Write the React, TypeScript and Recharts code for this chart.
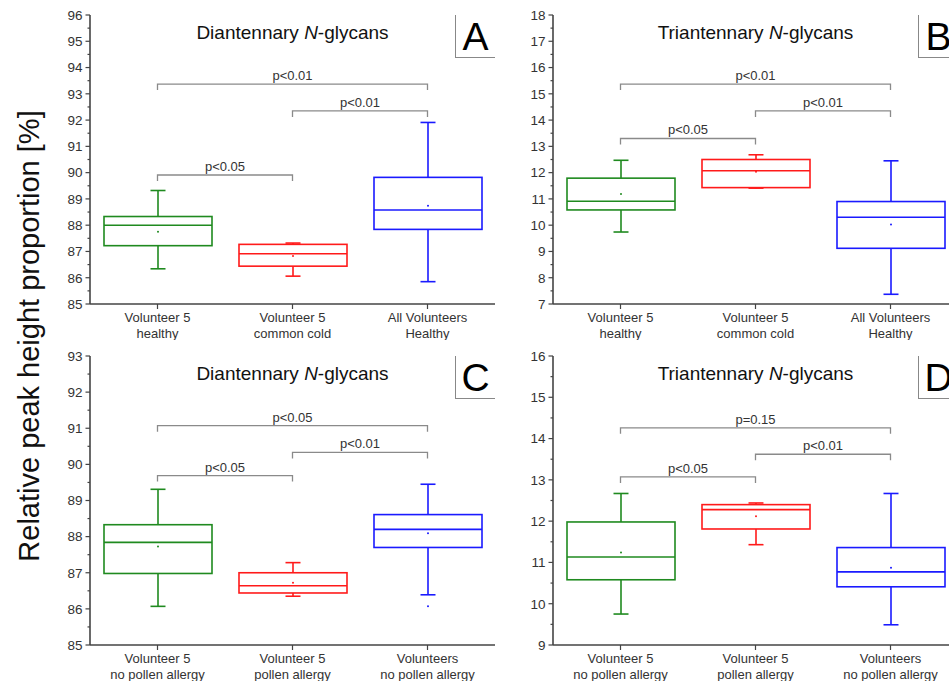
import React from 'react'
import { ComposedChart, Bar, XAxis, YAxis, ReferenceLine } from 'recharts'

// box stats per group: [min, q1, median, q3, max, mean]
const catsTop = ['Volunteer 5\nhealthy', 'Volunteer 5\ncommon cold', 'All Volunteers\nHealthy']
const catsBottom = ['Volunteer 5\nno pollen allergy', 'Volunteer 5\npollen allergy', 'Volunteers\nno pollen allergy']

const boxesA = [
  [86.34, 87.22, 88.0, 88.33, 89.32, 87.75],
  [86.06, 86.44, 86.91, 87.27, 87.32, 86.83],
  [85.85, 87.84, 88.58, 89.82, 91.91, 88.74],
]
const boxesB = [
  [9.74, 10.58, 10.91, 11.79, 12.47, 11.19],
  [11.41, 11.43, 12.07, 12.5, 12.68, 12.03],
  [7.37, 9.12, 10.3, 10.9, 12.45, 10.03],
]
const boxesC = [
  [86.07, 86.98, 87.84, 88.33, 89.31, 87.73],
  [86.35, 86.44, 86.64, 87.0, 87.28, 86.72],
  [86.39, 87.7, 88.2, 88.61, 89.45, 88.09],
]
const boxesD = [
  [9.75, 10.58, 11.13, 11.98, 12.67, 11.24],
  [11.43, 11.81, 12.28, 12.4, 12.44, 12.12],
  [9.49, 10.41, 10.77, 11.36, 12.67, 10.87],
]
const outliersC = [[], [], [86.07]]
const noOutliers = [[], [], []]

const ticksA = [85, 86, 87, 88, 89, 90, 91, 92, 93, 94, 95, 96]
const ticksB = [7, 8, 9, 10, 11, 12, 13, 14, 15, 16, 17, 18]
const ticksC = [85, 86, 87, 88, 89, 90, 91, 92, 93]
const ticksD = [9, 10, 11, 12, 13, 14, 15, 16]

const bracketsA = [
  { from: 0, to: 2, y: 93.37, label: 'p<0.01' },
  { from: 1, to: 2, y: 92.35, label: 'p<0.01' },
  { from: 0, to: 1, y: 89.91, label: 'p<0.05' },
]
const bracketsB = [
  { from: 0, to: 2, y: 15.37, label: 'p<0.01' },
  { from: 1, to: 2, y: 14.35, label: 'p<0.01' },
  { from: 0, to: 1, y: 13.3, label: 'p<0.05' },
]
const bracketsC = [
  { from: 0, to: 2, y: 91.07, label: 'p<0.05' },
  { from: 1, to: 2, y: 90.33, label: 'p<0.01' },
  { from: 0, to: 1, y: 89.69, label: 'p<0.05' },
]
const bracketsD = [
  { from: 0, to: 2, y: 14.26, label: 'p=0.15' },
  { from: 1, to: 2, y: 13.62, label: 'p<0.01' },
  { from: 0, to: 1, y: 13.07, label: 'p<0.05' },
]

const COLORS = ['#1f8a1f', '#ff1a1a', '#1a1aff']
const AXIS = '#444'
const FRAME = '#777'
const FONT = '"Liberation Sans", Arial, sans-serif'

// add half-step minor ticks between the labelled ones
const withMinor = (ticks: number[]) =>
  ticks.flatMap((t, i) => (i < ticks.length - 1 ? [t, (t + ticks[i + 1]) / 2] : [t]))

function YTick(props: any) {
  const { x, y, payload } = props
  const major = Number.isInteger(payload.value)
  return (
    <g>
      <line x1={x - (major ? 4.5 : 2.5)} x2={x} y1={y} y2={y} stroke={AXIS} strokeWidth={1.2} />
      {major && (
        <text x={x - 7.5} y={y + 4.8} textAnchor="end" fontSize={13.5} fill="#333">
          {payload.value}
        </text>
      )}
    </g>
  )
}

function XTick(props: any) {
  const { x, y, payload } = props
  const lines = String(payload.value).split('\n')
  return (
    <g>
      <line x1={x} x2={x} y1={y} y2={y + 5} stroke={AXIS} strokeWidth={1.2} />
      {lines.map((l, i) => (
        <text key={i} x={x} y={y + 18 + i * 16} textAnchor="middle" fontSize={13} fill="#333">
          {l}
        </text>
      ))}
    </g>
  )
}

function BoxShape(props: any) {
  const { x, y, width, height, payload } = props
  const { min, q1, median, q3, max, mean, outliers, color } = payload
  const top = Math.min(y, y + height)
  const h = Math.abs(height)
  const k = h / (q3 - q1)
  const py = (v: number) => top + (q3 - v) * k
  const cx = x + width / 2
  const cap = 7.5
  return (
    <g stroke={color} strokeWidth={1.6} fill="none">
      <line x1={cx} x2={cx} y1={py(max)} y2={top} />
      <line x1={cx} x2={cx} y1={top + h} y2={py(min)} />
      <line x1={cx - cap} x2={cx + cap} y1={py(max)} y2={py(max)} />
      <line x1={cx - cap} x2={cx + cap} y1={py(min)} y2={py(min)} />
      <rect x={x} y={top} width={width} height={h} />
      <line x1={x} x2={x + width} y1={py(median)} y2={py(median)} />
      <circle cx={cx} cy={py(mean)} r={1} fill={color} stroke="none" />
      {outliers.map((o: number, i: number) => (
        <circle key={i} cx={cx} cy={py(o)} r={1} fill={color} stroke="none" />
      ))}
    </g>
  )
}

function BracketShape(props: any) {
  const { x1, y1, x2, y2, text } = props
  return (
    <g>
      <path
        d={`M${x1},${y1 + 6}L${x1},${y1}L${x2},${y2}L${x2},${y2 + 6}`}
        fill="none"
        stroke="#8a8a8a"
        strokeWidth={1.3}
      />
      <text x={(x1 + x2) / 2} y={y1 - 4} textAnchor="middle" fontSize={13} fill="#333">
        {text}
      </text>
    </g>
  )
}

function Panel({ left, top, cats, boxes, outliers, ticks, brackets, title, letter }: any) {
  const data = cats.map((cat: string, i: number) => {
    const [min, q1, median, q3, max, mean] = boxes[i]
    return { cat, box: [q1, q3], min, q1, median, q3, max, mean, outliers: outliers[i], color: COLORS[i] }
  })
  return (
    <div style={{ position: 'absolute', left, top, width: 500, height: 340 }}>
      <ComposedChart width={500} height={340} data={data} margin={{ top: 15, right: 5, bottom: 6, left: 50 }}>
        <XAxis
          dataKey="cat"
          height={30}
          interval={0}
          tickSize={0}
          tickMargin={0}
          tickLine={false}
          tick={<XTick />}
          axisLine={{ stroke: AXIS, strokeWidth: 1.6 }}
        />
        <XAxis
          xAxisId="top"
          orientation="top"
          dataKey="cat"
          height={0}
          tick={false}
          tickLine={false}
          axisLine={{ stroke: FRAME, strokeWidth: 1.6 }}
        />
        <YAxis
          type="number"
          domain={[ticks[0], ticks[ticks.length - 1]]}
          ticks={withMinor(ticks)}
          interval={0}
          width={40}
          tickSize={0}
          tickMargin={0}
          tickLine={false}
          tick={<YTick />}
          allowDataOverflow
          axisLine={{ stroke: AXIS, strokeWidth: 1.6 }}
        />
        <YAxis
          yAxisId="right"
          orientation="right"
          width={0}
          tick={false}
          tickLine={false}
          axisLine={{ stroke: FRAME, strokeWidth: 1.6 }}
        />
        {brackets.map((b: any, i: number) => (
          <ReferenceLine
            key={i}
            segment={[{ x: cats[b.from], y: b.y }, { x: cats[b.to], y: b.y }]}
            shape={<BracketShape text={b.label} />}
          />
        ))}
        <Bar dataKey="box" barSize={108} isAnimationActive={false} shape={<BoxShape />} />
      </ComposedChart>
      <div
        style={{
          position: 'absolute',
          left: 90,
          width: 405,
          top: 22,
          textAlign: 'center',
          fontSize: 19,
          lineHeight: '22px',
          color: '#111',
        }}
      >
        {title} <i>N</i>-glycans
      </div>
      <div
        style={{
          position: 'absolute',
          left: 455,
          top: 15,
          width: 40,
          height: 43,
          boxSizing: 'border-box',
          border: '1px solid #888',
          borderTop: 'none',
          borderRight: 'none',
          fontSize: 39,
          lineHeight: '43px',
          textAlign: 'center',
          color: '#000',
        }}
      >
        {letter}
      </div>
    </div>
  )
}

export default function App() {
  return (
    <div
      style={{
        position: 'absolute',
        left: 0,
        top: 0,
        width: 949,
        height: 683,
        overflow: 'hidden',
        background: '#fff',
        fontFamily: FONT,
      }}
    >
      <Panel left={0} top={0} cats={catsTop} boxes={boxesA} outliers={noOutliers} ticks={ticksA} brackets={bracketsA} title="Diantennary" letter="A" />
      <Panel left={463} top={0} cats={catsTop} boxes={boxesB} outliers={noOutliers} ticks={ticksB} brackets={bracketsB} title="Triantennary" letter="B" />
      <Panel left={0} top={341} cats={catsBottom} boxes={boxesC} outliers={outliersC} ticks={ticksC} brackets={bracketsC} title="Diantennary" letter="C" />
      <Panel left={463} top={341} cats={catsBottom} boxes={boxesD} outliers={noOutliers} ticks={ticksD} brackets={bracketsD} title="Triantennary" letter="D" />
      <div
        style={{
          position: 'absolute',
          left: 29,
          top: 336,
          transform: 'translate(-50%, -50%) rotate(-90deg)',
          whiteSpace: 'nowrap',
          fontSize: 29,
          color: '#111',
        }}
      >
        Relative peak height proportion [%]
      </div>
    </div>
  )
}
